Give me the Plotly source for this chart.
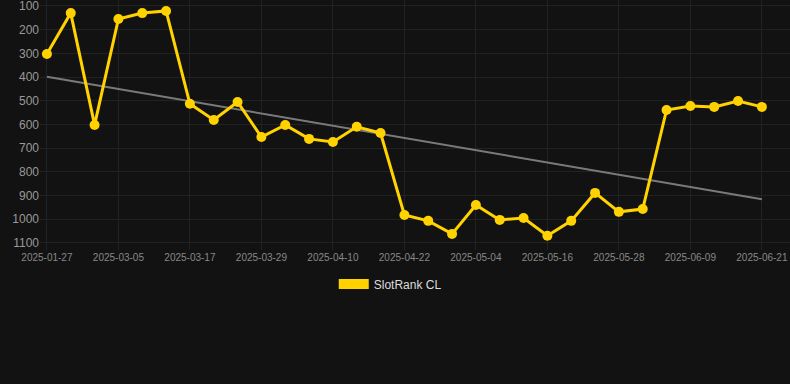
import numpy as np
import plotly.graph_objects as go

dates = ["2025-01-27", "2025-02-08", "2025-02-20", "2025-03-05", "2025-03-09", "2025-03-13",
         "2025-03-17", "2025-03-21", "2025-03-25", "2025-03-29", "2025-04-02", "2025-04-06",
         "2025-04-10", "2025-04-14", "2025-04-18", "2025-04-22", "2025-04-26", "2025-04-30",
         "2025-05-04", "2025-05-08", "2025-05-12", "2025-05-16", "2025-05-20", "2025-05-24",
         "2025-05-28", "2025-06-01", "2025-06-05", "2025-06-09", "2025-06-13", "2025-06-17",
         "2025-06-21"]
ranks = [303, 130, 602, 155, 130, 121, 513, 581, 505, 653, 602, 661, 674, 610, 636,
         982, 1007, 1062, 940, 1003, 995, 1070, 1007, 889, 969, 957, 539, 522, 526, 501, 526]
tick_labels = dates[::3]
y_ticks = [100, 200, 300, 400, 500, 600, 700, 800, 900, 1000, 1100]

idx = np.arange(len(ranks))
slope, intercept = np.polyfit(idx, ranks, 1)
trend = [intercept + slope * i for i in idx]

fig = go.Figure()
fig.add_trace(go.Scatter(x=dates, y=trend, mode="lines",
                         line=dict(color="#7a7a7a", width=2), showlegend=False, hoverinfo="skip"))
fig.add_trace(go.Scatter(x=dates, y=ranks, mode="lines+markers", name="SlotRank CL",
                         line=dict(color="#FFD200", width=3),
                         marker=dict(color="#FFD200", size=10), showlegend=False))
fig.add_trace(go.Scatter(x=[None], y=[None], mode="lines", name="SlotRank CL",
                         line=dict(color="#FFD200", width=12), showlegend=True))

fig.update_layout(
    width=790, height=384,
    paper_bgcolor="#121212", plot_bgcolor="#121212",
    margin=dict(l=40, r=0, t=0, b=134, autoexpand=False),
    font=dict(family="Liberation Sans, Arial, sans-serif", color="#999999"),
    legend=dict(orientation="h", x=0.467, xanchor="center",
                y=-0.136, yanchor="middle", font=dict(color="#dddddd", size=12)),
)
fig.update_xaxes(type="category", categoryorder="array", categoryarray=dates,
                 range=[-0.29, 31.18], tickvals=tick_labels, ticktext=tick_labels, tickangle=0,
                 tickfont=dict(size=10, color="#888888"), showgrid=True,
                 gridcolor="#222222", zeroline=False, showline=False, ticks="")
fig.update_yaxes(range=[1130, 74.7], tickvals=y_ticks, ticklabeloverflow="allow",
                 tickfont=dict(size=12, color="#999999"), showgrid=True, gridcolor="#222222",
                 zeroline=False, showline=False, ticks="")

fig.write_html("out.html", config={"displayModeBar": False},
               post_script="document.body.style.margin='0';document.body.style.background='#121212';document.body.style.overflow='hidden';")
